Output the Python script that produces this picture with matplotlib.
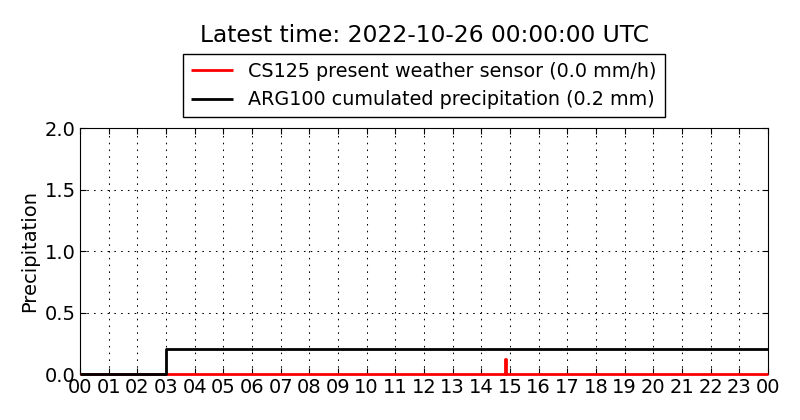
import matplotlib
matplotlib.use("Agg")
import matplotlib.pyplot as plt

# data (hours since 00 UTC)
cs125_hours = [0.0, 14.82, 14.86, 24.0]
cs125_rate = [0.0, 0.12, 0.0, 0.0]
arg100_hours = [0.0, 3.0, 24.0]
arg100_cum = [0.0, 0.2, 0.2]

hour_ticks = list(range(0, 25))
hour_labels = [f"{h % 24:02d}" for h in hour_ticks]
y_ticks = [0.0, 0.5, 1.0, 1.5, 2.0]

title = "Latest time: 2022-10-26 00:00:00 UTC"
label_cs = "CS125 present weather sensor (0.0 mm/h)"
label_arg = "ARG100 cumulated precipitation (0.2 mm)"

plt.rcParams["font.family"] = "DejaVu Sans"

fig = plt.figure(figsize=(8, 4.2), dpi=100)
ax = fig.add_axes([0.1, 0.1095, 0.86, 0.5857])

ax.plot(cs125_hours, cs125_rate, color="red", lw=2, drawstyle="steps-post",
        label=label_cs, clip_on=False, zorder=3, solid_capstyle="butt")
ax.plot(arg100_hours, arg100_cum, color="black", lw=2, drawstyle="steps-post",
        label=label_arg, clip_on=False, zorder=4, solid_capstyle="butt")

ax.set_xlim(0, 24)
ax.set_ylim(0, 2.0)
ax.set_xticks(hour_ticks)
ax.set_xticklabels(hour_labels)
ax.set_yticks(y_ticks)
ax.set_yticklabels([f"{v:.1f}" for v in y_ticks])
ax.tick_params(direction="in", labelsize=14, length=4, top=True, right=True, pad=3)
ax.set_ylabel("Precipitation", fontsize=14)
ax.grid(True, color="black", linestyle=(0, (1.5, 5.0)), linewidth=0.75)

leg = ax.legend(loc="lower center", bbox_to_anchor=(0.5, 1.045), borderaxespad=0,
                fontsize=13.8, fancybox=False, framealpha=1, edgecolor="black",
                handlelength=2.2)
leg.get_frame().set_linewidth(1.0)

fig.text(0.53, 1 - 35 / 420, title, fontsize=16.8, ha="center", va="center")

fig.savefig("out.png", dpi=100, facecolor="white")
